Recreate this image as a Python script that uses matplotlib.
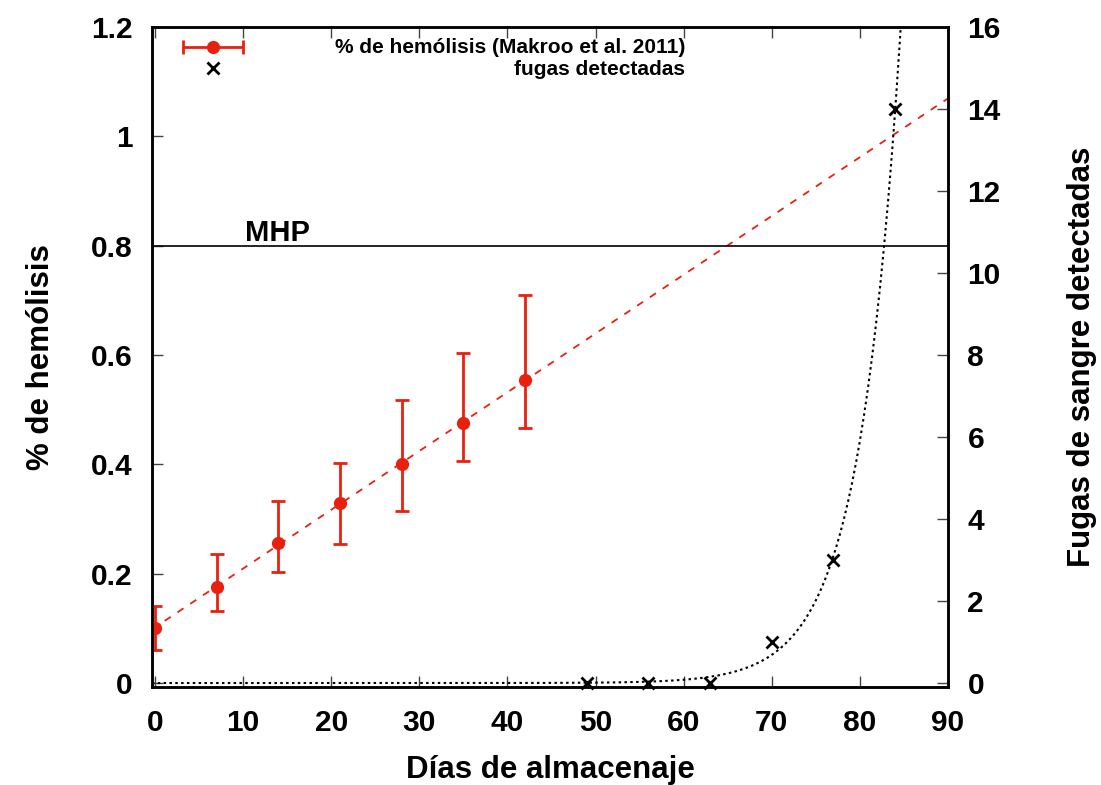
import numpy as np
import matplotlib.pyplot as plt
from matplotlib.lines import Line2D
from matplotlib.container import ErrorbarContainer
from matplotlib.legend_handler import HandlerErrorbar

plt.rcParams['font.family'] = ['Liberation Sans', 'DejaVu Sans']
plt.rcParams['font.weight'] = 'bold'
plt.rcParams['axes.labelweight'] = 'bold'

# hemolysis data (Makroo et al. 2011)
dias = [0, 7, 14, 21, 28, 35, 42]
hemolisis = [0.100, 0.176, 0.256, 0.330, 0.401, 0.476, 0.554]
hemolisis_min = [0.060, 0.131, 0.204, 0.254, 0.315, 0.407, 0.466]
hemolisis_max = [0.141, 0.236, 0.333, 0.403, 0.518, 0.603, 0.710]

# detected leaks
dias_fugas = [49, 56, 63, 70, 77, 84]
fugas = [0, 0, 0, 1, 3, 14]

# exponential fit of the leaks, f(x) = a*exp(b*x)
exp_a = 2.0e-7
exp_b = 0.215

mhp = 0.8

xticks = [0, 10, 20, 30, 40, 50, 60, 70, 80, 90]
yticks = [0, 0.2, 0.4, 0.6, 0.8, 1.0, 1.2]
ytick_labels = ['0', '0.2', '0.4', '0.6', '0.8', '1', '1.2']
y2ticks = [0, 2, 4, 6, 8, 10, 12, 14, 16]

rojo = '#e8210f'

fig = plt.figure(figsize=(11.01, 7.85), dpi=100)
ax = fig.add_axes([0.138, 0.1248, 0.7230, 0.8408])
ax2 = ax.twinx()

ax.set_xlim(-0.34, 90)
ax.set_ylim(-0.0073, 1.2)
ax2.set_ylim(-0.0976, 16)

# linear fit of hemolysis
pend, orig = np.polyfit(dias, hemolisis, 1)
xs = np.linspace(-0.34, 90, 400)
ax.plot(xs, orig + pend * xs, color=rojo, lw=1.3, linestyle=(0, (4, 4.5)))

yerr = [np.array(hemolisis) - np.array(hemolisis_min),
        np.array(hemolisis_max) - np.array(hemolisis)]
ax.errorbar(dias, hemolisis, yerr=yerr, fmt='o', color=rojo, ms=8.5,
            elinewidth=2, capsize=5, capthick=2, zorder=3)

ax.axhline(mhp, color='black', lw=1.2)
ax.text(10.2, mhp + 0.009, 'MHP', fontsize=21, va='baseline', ha='left')

# leaks on right axis
ax2.plot(xs, exp_a * np.exp(exp_b * xs), color='black', lw=1.5,
         linestyle=(0, (1.2, 1.6)))
ax2.plot(dias_fugas, fugas, 'x', color='black', ms=9, mew=2, clip_on=False)

ax.set_xticks(xticks)
ax.set_yticks(yticks)
ax.set_yticklabels(ytick_labels)
ax2.set_yticks(y2ticks)

ax.tick_params(direction='in', length=8, width=1, color='#444444',
               labelsize=21.5, pad=14, top=True)
ax.tick_params(axis='x', pad=16)
ax2.tick_params(direction='in', length=8, width=1, color='#444444',
                labelsize=21.5, pad=14)

for a in (ax, ax2):
    for s in a.spines.values():
        s.set_linewidth(1.8)

ax.set_xlabel('Días de almacenaje', fontsize=22.5, labelpad=13)
ax.set_ylabel('% de hemólisis', fontsize=22.5, labelpad=25)
ax2.set_ylabel('Fugas de sangre detectadas', fontsize=22.5, labelpad=47.5,
               rotation=90)

# key
h_err = ax2.errorbar([np.nan], [np.nan], xerr=[1], fmt='o', color=rojo,
                     ms=8.5, elinewidth=2, capsize=5, capthick=2)
h_x = Line2D([], [], linestyle='none', marker='x', color='black', ms=9, mew=2)
ax2.legend([h_err, h_x], [' ', ' '], loc='upper left',
           bbox_to_anchor=(0.039, 0.981), frameon=False, fontsize=15,
           handlelength=2.88, borderpad=0, borderaxespad=0, labelspacing=0.07,
           handler_map={ErrorbarContainer: HandlerErrorbar(xerr_size=1.44)})
ax2.text(0.6696, 0.9682, '% de hemólisis (Makroo et al. 2011)',
         transform=ax2.transAxes, ha='right', va='center', fontsize=15)
ax2.text(0.6696, 0.9349, 'fugas detectadas',
         transform=ax2.transAxes, ha='right', va='center', fontsize=15)

fig.savefig('out.png', dpi=100)
